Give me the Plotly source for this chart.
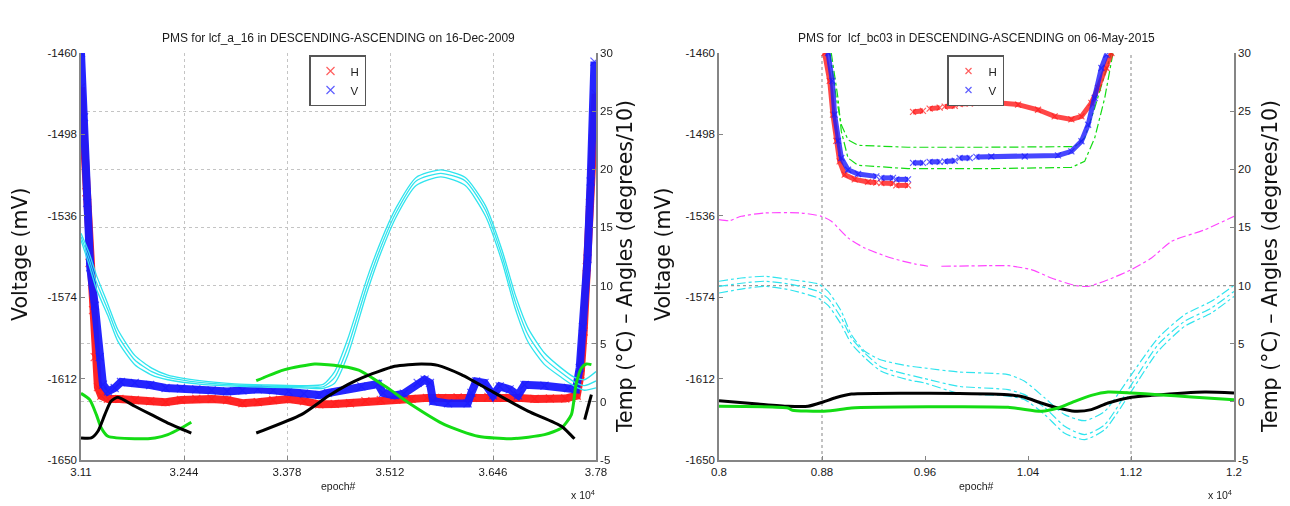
import plotly.graph_objects as go

W, H = 1290, 506

# ---------------- shared axis ticks ----------------
V_TICKS = [-1650, -1612, -1574, -1536, -1498, -1460]
V_TICKTEXT = ["-1650", "-1612", "-1574", "-1536", "-1498", "-1460"]
T_TICKS = [-5, 0, 5, 10, 15, 20, 25, 30]
T_TICKTEXT = ["-5", "0", "5", "10", "15", "20", "25", "30"]

# ---------------- left panel data ----------------
L_TITLE = "PMS for lcf_a_16 in DESCENDING-ASCENDING on 16-Dec-2009"
L_XTICKS = [3.11, 3.244, 3.378, 3.512, 3.646, 3.78]
L_XTICKTEXT = ["3.11", "3.244", "3.378", "3.512", "3.646", "3.78"]

HL_x = [3.110, 3.113, 3.117, 3.121, 3.1256, 3.1278, 3.132, 3.1364, 3.145, 3.16, 3.18, 3.20,
        3.22, 3.24, 3.26, 3.28, 3.30, 3.32, 3.34, 3.36, 3.38, 3.40, 3.42, 3.44, 3.46, 3.48,
        3.50, 3.52, 3.54, 3.56, 3.58, 3.60, 3.62, 3.64, 3.66, 3.68, 3.70, 3.72, 3.74, 3.755,
        3.760, 3.764, 3.768, 3.772, 3.776, 3.7795]
HL_v = [-1476, -1495, -1525, -1558, -1580, -1602, -1616, -1620, -1621.5, -1621.5, -1622, -1622.5,
        -1623, -1622, -1621.5, -1621.5, -1622, -1623.5, -1623, -1622, -1621.5, -1622.5, -1624, -1623.8,
        -1623.5, -1622.5, -1622, -1621.8, -1621.5, -1621, -1621, -1620.8, -1621, -1620.5, -1621,
        -1621, -1621.5, -1621.3, -1621.3, -1620, -1610, -1590, -1560, -1530, -1500, -1479]

VL_x = [3.110, 3.114, 3.118, 3.122, 3.128, 3.1343, 3.1386, 3.145, 3.1538, 3.162, 3.18, 3.20,
        3.22, 3.24, 3.26, 3.28, 3.30, 3.32, 3.34, 3.36, 3.38, 3.40, 3.42, 3.4313, 3.4747,
        3.4964, 3.503, 3.518, 3.53, 3.548, 3.557, 3.564, 3.568, 3.5875, 3.613, 3.6178, 3.624,
        3.635, 3.646, 3.6547, 3.6677, 3.6785, 3.687, 3.713, 3.7436, 3.754, 3.7588, 3.763,
        3.769, 3.773, 3.778]
VL_v = [-1460, -1490, -1530, -1560, -1578, -1602, -1614.8, -1618, -1616.4, -1613.6, -1614, -1615,
        -1616.4, -1616.5, -1617, -1617.5, -1618, -1617.5, -1617, -1617.5, -1618, -1619, -1619.7,
        -1618.7, -1615.6, -1614.5, -1618.7, -1619.8, -1619, -1614, -1612.5, -1614, -1622.6,
        -1623.6, -1623.6, -1618.7, -1613.3, -1614, -1619.8, -1615.6, -1617, -1619.8, -1614.9,
        -1615.3, -1616.4, -1617, -1607, -1588, -1556, -1520, -1464]

CL_x = [3.110, 3.120, 3.130, 3.145, 3.158, 3.180, 3.202, 3.223, 3.267, 3.310, 3.353, 3.397,
        3.425, 3.440, 3.457, 3.482, 3.500, 3.520, 3.546, 3.578, 3.610, 3.636, 3.658, 3.675,
        3.692, 3.713, 3.735, 3.752, 3.765, 3.780]
CL_a = [14.5, 12.9, 10.9, 8.4, 6.2, 4.0, 2.9, 2.3, 1.8, 1.55, 1.45, 1.4, 1.5, 2.6, 5.4, 10.6,
        13.8, 16.7, 19.3, 19.95, 19.3, 16.9, 13.0, 9.2, 6.3, 4.2, 2.9, 2.1, 1.9, 2.6]
CL_b = [14.2, 12.4, 10.3, 7.9, 5.7, 3.6, 2.6, 2.1, 1.65, 1.45, 1.35, 1.3, 1.3, 2.1, 4.7, 10.0,
        13.3, 16.3, 19.0, 19.65, 19.0, 16.5, 12.5, 8.6, 5.7, 3.7, 2.5, 1.7, 1.4, 1.8]
CL_c = [13.9, 11.9, 9.7, 7.4, 5.2, 3.2, 2.3, 1.9, 1.5, 1.35, 1.25, 1.2, 1.15, 1.6, 4.0, 9.4,
        12.8, 15.9, 18.6, 19.35, 18.6, 16.0, 12.0, 8.0, 5.1, 3.2, 2.1, 1.35, 1.0, 1.2]

GL_x = [3.110, 3.1213, 3.130, 3.1364, 3.145, 3.180, 3.206, 3.223, 3.2405, 3.2535, None,
        3.338, 3.375, 3.414, 3.4313, 3.457, 3.4747, 3.509, 3.54, 3.583, 3.6265, 3.6698,
        3.713, 3.735, 3.748, 3.754, 3.761, 3.7674, 3.774]
GL_y = [0.73, 0.19, -1.1, -2.25, -2.96, -3.17, -3.1, -2.82, -2.25, -1.76, None,
        1.82, 2.77, 3.26, 3.2, 2.97, 2.63, 1.19, -0.25, -1.96, -2.96, -3.17,
        -2.82, -2.25, -1.1, 1.48, 2.91, 3.26, 3.2]

BL_x = [3.110, 3.1234, 3.132, 3.141, 3.149, 3.158, 3.180, 3.2015, 3.223, 3.2535, None,
        3.338, 3.3966, 3.4313, 3.457, 3.4747, 3.518, 3.5527, 3.5744, 3.6048, 3.648, 3.6915,
        3.735, 3.748, 3.752, None, 3.7653, 3.774]
BL_y = [-3.1, -3.1, -2.53, -1.1, 0.05, 0.39, -0.38, -1.1, -1.82, -2.68, None,
        -2.68, -1.1, 0.48, 1.48, 2.05, 3.06, 3.26, 3.14, 2.34, 0.77, -0.8,
        -2.1, -2.9, -3.17, None, -1.53, 0.62]

# ---------------- right panel data ----------------
R_TITLE = "PMS for  lcf_bc03 in DESCENDING-ASCENDING on 06-May-2015"
R_XTICKS = [0.8, 0.88, 0.96, 1.04, 1.12, 1.2]
R_XTICKTEXT = ["0.8", "0.88", "0.96", "1.04", "1.12", "1.2"]
R_REF_EPOCHS = [0.88, 1.12]
R_REF_LEVELS = [10]

HR_x = [0.882, 0.886, 0.8885, 0.8911, 0.8937, 0.8976, 0.9054, 0.9157, 0.9222, None,
        0.9261, 0.9351, None, 0.9377, 0.9468, None, 0.9507, 0.9584, None, 0.9636, 0.9714, None,
        0.9753, 0.9831, None, 0.9869, 0.9947, None, 0.9999, 1.0115, 1.0323, 1.0478, 1.0607,
        1.0737, 1.0815, 1.0892, 1.0944, 1.1009, 1.1048]
HR_v = [-1460, -1473, -1488.8, -1501, -1510.6, -1516.8, -1519, -1520.2, -1520.5, None,
        -1520.7, -1520.9, None, -1521.8, -1521.8, None, -1487.5, -1487, None, -1486, -1485.5, None,
        -1485, -1484.7, None, -1483.8, -1483.6, None, -1483.3, -1483, -1484.1, -1486.5, -1489.6,
        -1491, -1489.6, -1483.3, -1476.3, -1467, -1460]

VR_x = [0.8847, 0.888, 0.8898, 0.8924, 0.895, 0.9002, 0.908, 0.9222, None, 0.9261, 0.9351, None,
        0.9377, 0.9468, None, 0.9507, 0.9584, None, 0.9636, 0.9714, None, 0.9753, 0.9831, None,
        0.9869, 0.9947, None, 0.9999, 1.0115, 1.0375, 1.0633, 1.0737, 1.0815, 1.0867, 1.0918,
        1.097, 1.1009]
VR_v = [-1460, -1473, -1488.8, -1501, -1509, -1514.5, -1516.5, -1517.6, None, -1518.3, -1518.3, None,
        -1519, -1519, None, -1511.3, -1511.3, None, -1510.8, -1510.8, None, -1510.6, -1510.3, None,
        -1509, -1509, None, -1508.5, -1508.3, -1508.3, -1507.8, -1505.9, -1501.2, -1493.5, -1481,
        -1467, -1460.8]

GU_x = [0.886, 0.8911, 0.895, 0.9002, 0.908, 0.9468, 1.0089, 1.0763, 1.084, 1.0918, 1.0996, 1.1048]
GU_v = [-1460, -1481, -1493.5, -1500.5, -1503.1, -1504, -1504, -1503.7, -1499.7, -1485.7, -1470.1, -1460]
GD_x = [0.8872, 0.8924, 0.895, 0.9002, 0.908, 0.9468, 1.0089, 1.0737, 1.084, 1.0918, 1.0996, 1.106]
GD_v = [-1460, -1481, -1496.6, -1509, -1512.4, -1514, -1514, -1513.4, -1510.6, -1499.7, -1481, -1460]

MR_x = [0.8, 0.808, 0.8173, 0.8355, 0.864, 0.8795, 0.8873, 0.9002, 0.9132, 0.9338, 0.952, 0.9623,
        None, 0.9727, 1.0089, 1.0245, 1.0426, 1.0581, 1.0763, 1.0866, 1.1022, 1.1203, 1.1359,
        1.1514, 1.1773, 1.2]
MR_y = [15.67, 15.58, 15.96, 16.24, 16.24, 15.96, 15.53, 14.1, 13.23, 12.37, 11.86, 11.66,
        None, 11.66, 11.71, 11.71, 11.37, 10.65, 10.02, 9.93, 10.5, 11.37, 12.37,
        13.8, 14.8, 15.96]

CR_x = [0.8, 0.8173, 0.8355, 0.8562, 0.8769, 0.8847, 0.895, 0.9028, 0.9132, 0.926, 0.9468, 0.9598,
        0.9857, 1.0245, 1.0374, 1.053, 1.0685, 1.084, 1.0996, 1.1203, 1.141, 1.1617, 1.1824, 1.2]
CR_a = [10.37, 10.65, 10.8, 10.5, 10.14, 9.5, 7.79, 5.78, 4.35, 3.6, 3.1, 2.91, 2.57, 2.34, 1.77,
        0.34, -1.1, -1.62, -0.81, 2.34, 5.49, 7.5, 8.65, 10.02]
CR_b = [9.93, 10.2, 10.37, 10.1, 9.5, 8.9, 7.21, 5.5, 4.2, 3.0, 2.34, 2.0, 1.34, 1.05, 0.62,
        -0.5, -2.1, -2.82, -1.96, 1.48, 4.92, 6.93, 8.07, 9.5]
CR_c = [9.36, 9.7, 9.93, 9.6, 8.93, 8.3, 6.64, 5.0, 3.8, 2.63, 1.9, 1.62, 0.76, 0.5, 0.19,
        -1.1, -2.7, -3.25, -2.39, 0.91, 4.35, 6.5, 7.64, 9.07]

BR_x = [0.8, 0.8303, 0.8536, 0.8691, 0.8808, 0.8899, 0.9028, 1.0245, 1.0374, 1.0503, 1.0633,
        1.0763, 1.0892, 1.1022, 1.1203, 1.1359, 1.1773, 1.2]
BR_y = [0.1, -0.18, -0.38, -0.38, -0.01, 0.33, 0.67, 0.62, 0.39, -0.1, -0.53, -0.81, -0.67,
        -0.1, 0.39, 0.56, 0.85, 0.77]

GR_x = [0.8, 0.8536, 0.857, 0.8795, 0.8899, 0.9028, 1.0245, 1.0503, 1.0633, 1.0763, 1.0892,
        1.1022, 1.1203, 1.141, 1.167, 1.2]
GR_y = [-0.38, -0.53, -0.72, -0.81, -0.72, -0.53, -0.47, -0.81, -0.53, 0.05, 0.56, 0.85, 0.77,
        0.62, 0.42, 0.19]

# ---------------- styles ----------------
RED, BLUE, CYAN, GREEN, MAG = "#ff1a1a", "#1a1aff", "#30e4ee", "#14dc14", "#ff45ff"
AXC = "#858585"
TICKFONT = dict(family="Liberation Sans, Arial", size=11.5, color="#1a1a1a")

fig = go.Figure()


def band(x, y, color, xa, ya, name, legend, width, opacity, msize):
    fig.add_trace(go.Scatter(x=x, y=y, xaxis=xa, yaxis=ya, mode="lines", showlegend=False,
                             line=dict(color=color, width=width), opacity=opacity,
                             hoverinfo="skip"))
    fig.add_trace(go.Scatter(x=x, y=y, xaxis=xa, yaxis=ya, mode="markers", name=name,
                             legend=legend,
                             marker=dict(symbol="x-thin", size=msize,
                                         line=dict(color=color, width=1.2)),
                             opacity=0.7))


def curve(x, y, color, xa, ya, width, dash="solid", shape="spline"):
    fig.add_trace(go.Scatter(x=x, y=y, xaxis=xa, yaxis=ya, mode="lines", showlegend=False,
                             line=dict(color=color, width=width, dash=dash, shape=shape,
                                       smoothing=0.6)))


# left panel
band(HL_x, HL_v, RED, "x", "y", "H", "legend", 8, 0.95, 8)
band(VL_x, VL_v, BLUE, "x", "y", "V", "legend", 8, 0.95, 8)
for cy in (CL_a, CL_b, CL_c):
    curve(CL_x, cy, CYAN, "x", "y2", 1.3)
curve(GL_x, GL_y, GREEN, "x", "y2", 3)
curve(BL_x, BL_y, "black", "x", "y2", 3)

# right panel
curve(GU_x, GU_v, GREEN, "x2", "y3", 1.2, "dashdot", "linear")
curve(GD_x, GD_v, GREEN, "x2", "y3", 1.2, "dashdot", "linear")
band(HR_x, HR_v, RED, "x2", "y3", "H", "legend2", 5, 0.8, 6)
band(VR_x, VR_v, BLUE, "x2", "y3", "V", "legend2", 5, 0.8, 6)
curve(MR_x, MR_y, MAG, "x2", "y4", 1.2, "dashdot")
for cy in (CR_a, CR_b, CR_c):
    curve(CR_x, cy, CYAN, "x2", "y4", 1.2, "dashdot")
curve(BR_x, BR_y, "black", "x2", "y4", 3)
curve(GR_x, GR_y, GREEN, "x2", "y4", 3)

# ---------------- layout ----------------
XL = [73 / W, 588 / W]
XR = [711 / W, 1226 / W]
YD = [1 - 452 / H, 1 - 45 / H]

common_x = dict(ticks="inside", ticklen=4, tickcolor=AXC, showline=True, linecolor=AXC,
                linewidth=1.5, zeroline=False, tickfont=TICKFONT, automargin=False)
common_y = dict(ticks="inside", ticklen=4, tickcolor=AXC, showline=True, linecolor=AXC,
                linewidth=1.5, zeroline=False, tickfont=TICKFONT, automargin=False)

LEGFONT = dict(family="Liberation Sans, Arial", size=11.5, color="#222")
fig.update_layout(
    width=W, height=H, margin=dict(l=0, r=0, t=0, b=0),
    paper_bgcolor="white", plot_bgcolor="white",
    xaxis=dict(domain=XL, range=[3.11, 3.78], anchor="y", tickvals=L_XTICKS,
               ticktext=L_XTICKTEXT, showgrid=True, gridcolor="#c4c4c4", griddash="dot",
               gridwidth=1, **common_x),
    yaxis=dict(domain=YD, range=[-1650, -1460], anchor="x", tickvals=V_TICKS,
               ticktext=V_TICKTEXT, showgrid=False, **common_y),
    yaxis2=dict(overlaying="y", side="right", anchor="x", range=[-5, 30], tickvals=T_TICKS,
                ticktext=T_TICKTEXT, showgrid=True, gridcolor="#c4c4c4", griddash="dot",
                gridwidth=1, **common_y),
    xaxis2=dict(domain=XR, range=[0.8, 1.2], anchor="y3", tickvals=R_XTICKS,
                ticktext=R_XTICKTEXT, showgrid=False, **common_x),
    yaxis3=dict(domain=YD, range=[-1650, -1460], anchor="x2", tickvals=V_TICKS,
                ticktext=V_TICKTEXT, showgrid=False, **common_y),
    yaxis4=dict(overlaying="y3", side="right", anchor="x2", range=[-5, 30], tickvals=T_TICKS,
                ticktext=T_TICKTEXT, showgrid=False, **common_y),
    legend=dict(x=301 / W, y=1 - 47 / H, xanchor="left", yanchor="top", bgcolor="white",
                bordercolor="#555555", borderwidth=1.5, itemwidth=30, tracegroupgap=0,
                font=LEGFONT),
    legend2=dict(x=939 / W, y=1 - 47 / H, xanchor="left", yanchor="top", bgcolor="white",
                 bordercolor="#555555", borderwidth=1.5, itemwidth=30, tracegroupgap=0,
                 font=LEGFONT),
    showlegend=True,
)

shapes = []
for xv in R_REF_EPOCHS:
    shapes.append(dict(type="line", xref="x2", yref="y3 domain", x0=xv, x1=xv, y0=0, y1=1,
                       line=dict(color="#9a9a9a", width=1.2, dash="dot"), layer="below"))
for yv in R_REF_LEVELS:
    shapes.append(dict(type="line", xref="x2 domain", yref="y4", x0=0, x1=1, y0=yv, y1=yv,
                       line=dict(color="#9a9a9a", width=1.2, dash="dot"), layer="below"))
fig.update_layout(shapes=shapes)

TXT = dict(family="Liberation Sans, Arial", color="#1a1a1a")
BIG = dict(family="DejaVu Sans", size=20.5, color="#111")
ann = []
for cx, title in ((330.5, L_TITLE), (968.5, R_TITLE)):
    ann.append(dict(x=cx / W, y=1 - 30 / H, xref="paper", yref="paper", text=title,
                    showarrow=False, font=dict(size=12, **TXT), xanchor="center",
                    yanchor="middle"))
    ann.append(dict(x=cx / W, y=1 - 478 / H, xref="paper", yref="paper", text="epoch#",
                    showarrow=False, font=dict(size=10.5, **TXT), xanchor="center",
                    yanchor="middle"))
for px in (575, 1212):
    ann.append(dict(x=px / W, y=1 - 486 / H, xref="paper", yref="paper",
                    text="x 10<sup>4</sup>", showarrow=False, font=dict(size=10.5, **TXT),
                    xanchor="center", yanchor="middle"))
for px in (12, 655):
    ann.append(dict(x=px / W, y=1 - 247 / H, xref="paper", yref="paper", text="Voltage (mV)",
                    showarrow=False, textangle=-90, font=BIG, xanchor="center",
                    yanchor="middle"))
for px in (617, 1262):
    ann.append(dict(x=px / W, y=1 - 259 / H, xref="paper", yref="paper",
                    text="Temp (°C) – Angles (degrees/10)", showarrow=False, textangle=-90,
                    font=BIG, xanchor="center", yanchor="middle"))
fig.update_layout(annotations=ann)

fig.write_html("out.html")
